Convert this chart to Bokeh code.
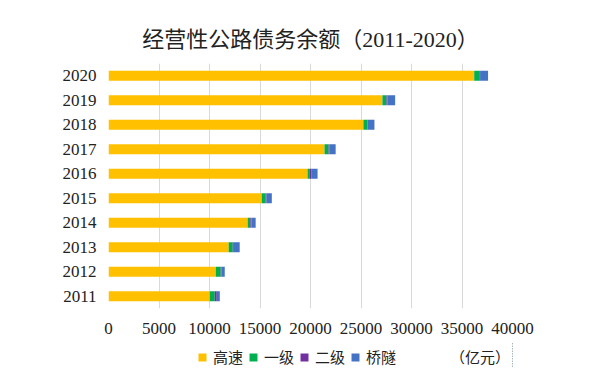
from bokeh.plotting import figure
from bokeh.layouts import column
from bokeh.models import ColumnDataSource, FactorRange, Range1d, Legend, LegendItem, FixedTicker
from bokeh.embed import file_html
from bokeh.resources import INLINE

years = ["2011", "2012", "2013", "2014", "2015", "2016", "2017", "2018", "2019", "2020"]
gaosu = [10030, 10620, 11900, 13780, 15170, 19710, 21390, 25240, 27120, 36210]
yiji = [490, 490, 400, 260, 400, 230, 400, 400, 400, 560]
erji = [200, 70, 100, 100, 70, 130, 70, 30, 100, 20]
qiaosui = [300, 330, 590, 430, 530, 630, 630, 660, 760, 790]
series = ["高速", "一级", "二级", "桥隧"]
colors = ["#FFC000", "#00B050", "#7030A0", "#4472C4"]
x_ticks = [0, 5000, 10000, 15000, 20000, 25000, 30000, 35000, 40000]
title_text = "经营性公路债务余额（2011-2020）"
unit_text = "（亿元）"

source = ColumnDataSource(data={"year": years, "高速": gaosu, "一级": yiji, "二级": erji, "桥隧": qiaosui})

SERIF = "Liberation Serif, Noto Sans CJK SC"
CJK = "Noto Sans CJK SC"

# main chart
p = figure(width=577, height=342, output_backend="svg", toolbar_location=None,
           y_range=FactorRange(factors=years, range_padding=0),
           x_range=Range1d(0, 40000),
           min_border_left=108, min_border_right=65, min_border_top=63, min_border_bottom=34,
           title=title_text)

p.hbar_stack(series, y="year", height=0.41, color=colors, source=source, line_width=0)

p.title.align = "center"
p.title.text_font = SERIF
p.title.text_font_size = "22px"
p.title.text_font_style = "normal"
p.title.text_color = "#222222"
p.title.standoff = 24

p.outline_line_color = None
p.ygrid.grid_line_color = None
p.xgrid.grid_line_color = "#d9d9d9"
p.xgrid.grid_line_width = 1
p.xaxis.ticker = FixedTicker(ticks=x_ticks)

for ax in (p.xaxis[0], p.yaxis[0]):
    ax.axis_line_color = None
    ax.major_tick_line_color = None
    ax.minor_tick_line_color = None
    ax.major_tick_out = 0
    ax.major_tick_in = 0
    ax.major_label_text_font = SERIF
    ax.major_label_text_font_size = "17px"
    ax.major_label_text_color = "#222222"
p.yaxis.major_label_standoff = 12
p.xaxis.major_label_standoff = 14

# legend strip (same series, drawn outside its view so only the legend shows)
q = figure(width=577, height=25, output_backend="svg", toolbar_location=None,
           x_range=Range1d(-2, -1), y_range=FactorRange(factors=years),
           x_axis_location=None, y_axis_location=None,
           min_border=0, min_border_left=0, min_border_right=0, min_border_top=0, min_border_bottom=0)
q.outline_line_color = None
q.xgrid.visible = False
q.ygrid.visible = False
q_renderers = q.hbar_stack(series, y="year", height=0.41, color=colors, source=source, line_width=0)
blank = q.hbar(y="year", left=0, right=0, height=0.41, source=source, fill_alpha=0, line_alpha=0)

items = [LegendItem(label=s, renderers=[r]) for s, r in zip(series, q_renderers)]
items.append(LegendItem(label="\u00a0", renderers=[blank]))
items.append(LegendItem(label=unit_text, renderers=[blank]))

legend = Legend(items=items, orientation="horizontal", location=(89, 0),
                glyph_width=10, glyph_height=10, label_standoff=6, spacing=5, label_width=12,
                padding=0, margin=0, border_line_color=None, background_fill_alpha=0,
                label_text_font=CJK, label_text_font_size="15px", label_text_color="#222222")
q.add_layout(legend, "center")

layout = column(p, q, spacing=0)
open("out.html", "w").write(file_html(layout, INLINE))
